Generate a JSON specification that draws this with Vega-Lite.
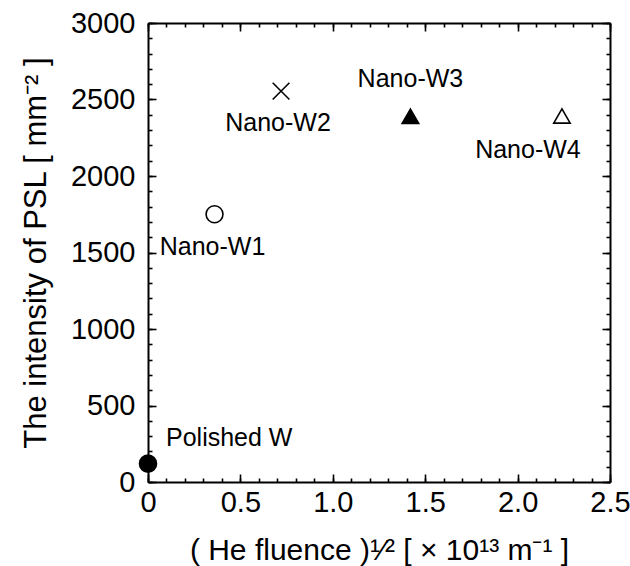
{
  "$schema": "https://vega.github.io/schema/vega-lite/v6.json",
  "width": 462,
  "height": 459,
  "autosize": {"type": "none"},
  "padding": {"left": 148, "top": 23, "right": 20, "bottom": 84},
  "background": "white",
  "config": {
    "view": {"stroke": null},
    "font": "Liberation Sans",
    "axis": {
      "domainColor": "black",
      "domainWidth": 2,
      "tickColor": "black",
      "tickWidth": 1.6,
      "grid": false,
      "labelColor": "black",
      "titleColor": "black",
      "labelFont": "Liberation Sans",
      "titleFont": "Liberation Sans",
      "labelFontSize": 29,
      "titleFontSize": 30,
      "titleFontWeight": "normal",
      "labelOverlap": false,
      "labelFlush": false
    }
  },
  "data": {
    "values": [
      {"sample": "Polished W", "fluence": 0, "psl": 120},
      {"sample": "Nano-W1", "fluence": 0.36, "psl": 1750},
      {"sample": "Nano-W2", "fluence": 0.72, "psl": 2555},
      {"sample": "Nano-W3", "fluence": 1.42, "psl": 2390},
      {"sample": "Nano-W4", "fluence": 2.24, "psl": 2392}
    ]
  },
  "layer": [
    {
      "mark": {"type": "point", "opacity": 0},
      "encoding": {
        "x": {
          "field": "fluence", "type": "quantitative",
          "scale": {"domain": [0, 2.5], "nice": false, "zero": false},
          "axis": {"orient": "bottom", "title": null, "labels": false, "domain": false,
                   "values": [0,0.1,0.2,0.3,0.4,0.5,0.6,0.7,0.8,0.9,1,1.1,1.2,1.3,1.4,1.5,1.6,1.7,1.8,1.9,2,2.1,2.2,2.3,2.4,2.5],
                   "tickSize": -4}
        },
        "y": {
          "field": "psl", "type": "quantitative",
          "scale": {"domain": [0, 3000], "nice": false},
          "axis": {"orient": "left", "title": null, "labels": false, "domain": false,
                   "values": [0,100,200,300,400,500,600,700,800,900,1000,1100,1200,1300,1400,1500,1600,1700,1800,1900,2000,2100,2200,2300,2400,2500,2600,2700,2800,2900,3000],
                   "tickSize": -4}
        }
      }
    },
    {
      "mark": {"type": "point", "opacity": 0},
      "encoding": {
        "x": {
          "field": "fluence", "type": "quantitative",
          "axis": {"orient": "bottom", "title": null, "labels": false, "domain": false,
                   "values": [0,0.5,1,1.5,2,2.5], "tickSize": -8}
        },
        "y": {
          "field": "psl", "type": "quantitative",
          "axis": {"orient": "left", "title": null, "labels": false, "domain": false,
                   "values": [0,500,1000,1500,2000,2500,3000], "tickSize": -8}
        }
      }
    },
    {
      "mark": {"type": "point", "opacity": 0},
      "encoding": {
        "x": {
          "field": "fluence", "type": "quantitative",
          "axis": {"orient": "top", "title": null, "labels": false, "domain": true,
                   "values": [0,0.1,0.2,0.3,0.4,0.5,0.6,0.7,0.8,0.9,1,1.1,1.2,1.3,1.4,1.5,1.6,1.7,1.8,1.9,2,2.1,2.2,2.3,2.4,2.5],
                   "tickSize": -4}
        },
        "y": {
          "field": "psl", "type": "quantitative",
          "axis": {"orient": "right", "title": null, "labels": false, "domain": true,
                   "values": [0,100,200,300,400,500,600,700,800,900,1000,1100,1200,1300,1400,1500,1600,1700,1800,1900,2000,2100,2200,2300,2400,2500,2600,2700,2800,2900,3000],
                   "tickSize": -4}
        }
      }
    },
    {
      "mark": {"type": "point", "opacity": 0},
      "encoding": {
        "x": {
          "field": "fluence", "type": "quantitative",
          "axis": {"orient": "top", "title": null, "labels": false, "domain": false,
                   "values": [0,0.5,1,1.5,2,2.5], "tickSize": -8}
        },
        "y": {
          "field": "psl", "type": "quantitative",
          "axis": {"orient": "right", "title": null, "labels": false, "domain": false,
                   "values": [0,500,1000,1500,2000,2500,3000], "tickSize": -8}
        }
      }
    },
    {
      "mark": {"type": "point", "filled": false, "stroke": "black", "strokeWidth": 1.6, "opacity": 1},
      "encoding": {
        "x": {
          "field": "fluence", "type": "quantitative",
          "axis": {
            "orient": "bottom",
            "title": "( He fluence )¹⁄² [ × 10¹³ m⁻¹ ]",
            "titlePadding": 18,
            "labelPadding": 6,
            "ticks": false,
            "values": [0,0.5,1,1.5,2,2.5],
            "labelExpr": "datum.value === 0 ? '0' : format(datum.value, '.1f')"
          }
        },
        "y": {
          "field": "psl", "type": "quantitative",
          "axis": {
            "orient": "left",
            "title": "The intensity of PSL [ mm⁻² ]",
            "titleFontSize": 31,
            "titlePadding": 18,
            "labelPadding": 13,
            "ticks": false,
            "format": "d",
            "values": [0,500,1000,1500,2000,2500,3000]
          }
        },
        "shape": {
          "field": "sample", "type": "nominal", "legend": null,
          "scale": {"domain": ["Polished W", "Nano-W1", "Nano-W2", "Nano-W3", "Nano-W4"],
                    "range": ["circle", "circle", "M-1,-1L1,1M-1,1L1,-1", "triangle-up", "triangle-up"]}
        },
        "fill": {
          "field": "sample", "type": "nominal", "legend": null,
          "scale": {"domain": ["Polished W", "Nano-W1", "Nano-W2", "Nano-W3", "Nano-W4"],
                    "range": ["black", "white", "transparent", "black", "white"]}
        },
        "size": {
          "field": "sample", "type": "nominal", "legend": null,
          "scale": {"domain": ["Polished W", "Nano-W1", "Nano-W2", "Nano-W3", "Nano-W4"],
                    "range": [290, 270, 72, 330, 330]}
        }
      }
    },
    {
      "transform": [{"filter": "datum.sample === 'Polished W'"}],
      "mark": {"type": "text", "align": "left", "baseline": "middle", "dx": 18, "dy": -26, "fontSize": 25, "font": "Liberation Sans", "color": "black"},
      "encoding": {
        "x": {"field": "fluence", "type": "quantitative", "axis": null},
        "y": {"field": "psl", "type": "quantitative", "axis": null},
        "text": {"field": "sample"}
      }
    },
    {
      "transform": [{"filter": "datum.sample === 'Nano-W1'"}],
      "mark": {"type": "text", "align": "center", "baseline": "middle", "dx": -2, "dy": 33, "fontSize": 25, "font": "Liberation Sans", "color": "black"},
      "encoding": {
        "x": {"field": "fluence", "type": "quantitative", "axis": null},
        "y": {"field": "psl", "type": "quantitative", "axis": null},
        "text": {"field": "sample"}
      }
    },
    {
      "transform": [{"filter": "datum.sample === 'Nano-W2'"}],
      "mark": {"type": "text", "align": "center", "baseline": "middle", "dx": -3, "dy": 32, "fontSize": 25, "font": "Liberation Sans", "color": "black"},
      "encoding": {
        "x": {"field": "fluence", "type": "quantitative", "axis": null},
        "y": {"field": "psl", "type": "quantitative", "axis": null},
        "text": {"field": "sample"}
      }
    },
    {
      "transform": [{"filter": "datum.sample === 'Nano-W3'"}],
      "mark": {"type": "text", "align": "center", "baseline": "middle", "dx": 0, "dy": -37, "fontSize": 25, "font": "Liberation Sans", "color": "black"},
      "encoding": {
        "x": {"field": "fluence", "type": "quantitative", "axis": null},
        "y": {"field": "psl", "type": "quantitative", "axis": null},
        "text": {"field": "sample"}
      }
    },
    {
      "transform": [{"filter": "datum.sample === 'Nano-W4'"}],
      "mark": {"type": "text", "align": "center", "baseline": "middle", "dx": -34, "dy": 34, "fontSize": 25, "font": "Liberation Sans", "color": "black"},
      "encoding": {
        "x": {"field": "fluence", "type": "quantitative", "axis": null},
        "y": {"field": "psl", "type": "quantitative", "axis": null},
        "text": {"field": "sample"}
      }
    }
  ],
  "resolve": {"axis": {"x": "independent", "y": "independent"}}
}
